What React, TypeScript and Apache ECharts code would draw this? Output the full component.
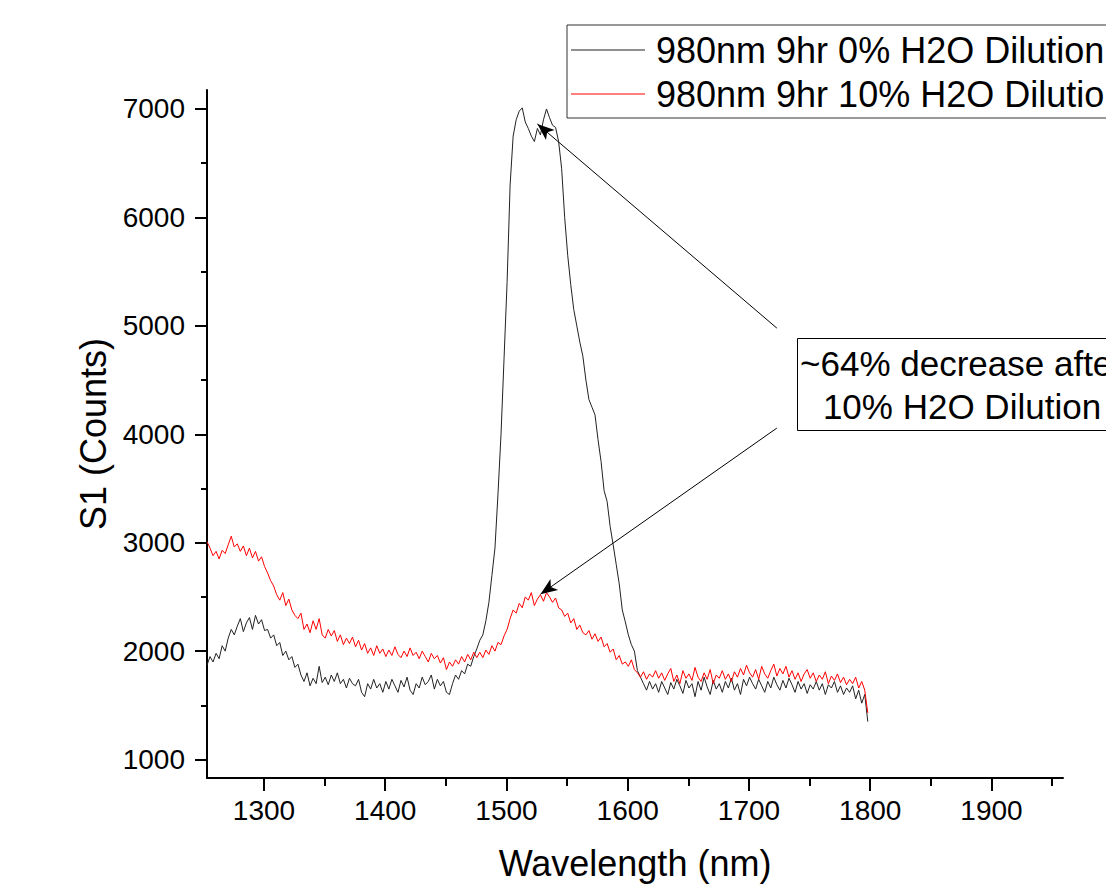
import React, { useEffect, useRef } from "react";
import * as echarts from "echarts";

// Sampling grid of the spectra (nm)
const wlStart = 1253;
const wlStep = 2.5;

const series0Name = "980nm 9hr 0% H2O Dilution";
const series1Name = "980nm 9hr 10% H2O Dilution";

// S1 counts, 0% H2O dilution (10 samples per row = 25 nm)
const counts0 = [
  1870, 1950, 1900, 1980, 1930, 2050, 2000, 2120, 2200, 2150,
  2230, 2300, 2180, 2260, 2310, 2200, 2330, 2250, 2290, 2190,
  2200, 2120, 2150, 2050, 2080, 1960, 2000, 1920, 1950, 1850,
  1880, 1780, 1720, 1800, 1680, 1750, 1700, 1860, 1710, 1760,
  1690, 1780, 1720, 1800, 1700, 1740, 1660, 1750, 1700, 1680,
  1740, 1620, 1580, 1700, 1650, 1740, 1660, 1700, 1620, 1720,
  1650, 1740, 1680, 1620, 1730, 1670, 1760, 1640, 1600, 1700,
  1660, 1760, 1690, 1720, 1780, 1650, 1740, 1680, 1720, 1620,
  1600, 1700, 1780, 1740, 1820, 1790, 1880, 1860, 1950, 2020,
  2100, 2150, 2280, 2450, 2700, 2950, 3450, 4000, 4700, 5400,
  6300, 6750, 6900, 6980, 7010, 6880, 6820, 6750, 6700, 6820,
  6760, 6900, 7000, 6920, 6850, 6830, 6700, 6450, 6000, 5650,
  5380, 5150, 5000, 4850, 4720, 4500, 4320, 4250, 4180, 3950,
  3750, 3480, 3380, 3150, 2980, 2800, 2620, 2380, 2270, 2150,
  2060, 2000, 1820, 1760, 1700, 1640, 1720, 1650, 1700, 1620,
  1720, 1660, 1600, 1710, 1650, 1740, 1680, 1610, 1730, 1660,
  1700, 1580, 1720, 1640, 1760, 1670, 1600, 1730, 1650, 1700,
  1620, 1720, 1660, 1750, 1640, 1700, 1600, 1740, 1680, 1760,
  1700, 1650, 1740, 1680, 1620, 1720, 1660, 1760, 1690, 1640,
  1730, 1660, 1750, 1690, 1620, 1720, 1650, 1700, 1610, 1690,
  1650, 1720, 1640, 1700, 1600, 1690, 1660, 1720, 1620, 1680,
  1600, 1660, 1620, 1680, 1560, 1640, 1520, 1600, 1350,
];

// S1 counts, 10% H2O dilution
const counts1 = [
  3010, 2950, 2880, 2920, 2850, 2930, 2900, 2980, 3060, 2960,
  2990, 2920, 2970, 2880, 2950, 2860, 2920, 2830, 2870, 2780,
  2720, 2650, 2600, 2520, 2470, 2540, 2420, 2480, 2380, 2330,
  2300, 2350, 2200, 2250, 2170, 2280, 2200, 2300, 2150, 2120,
  2200, 2140, 2190, 2090, 2150, 2060, 2120, 2070, 2130, 2040,
  2100, 2010, 2070, 1980, 2030, 1960, 2050, 1980, 2020, 1950,
  2010, 1960, 2040, 1970, 1940, 2000, 1950, 2030, 1960, 1990,
  1930, 2000, 1950, 1900, 1980, 1930, 1960, 1890, 1940, 1830,
  1900, 1860, 1920, 1880, 1950, 1900, 1970, 1920, 1990, 1940,
  1990, 1940, 2010, 1970, 2050, 2000, 2080, 2060, 2140, 2200,
  2300, 2380, 2350, 2440, 2400, 2500, 2470, 2540, 2420, 2480,
  2520, 2460, 2540, 2500, 2450, 2490, 2400, 2380, 2320, 2350,
  2260, 2300, 2200, 2240, 2170, 2150, 2190, 2110, 2160, 2090,
  2130, 2040, 2070, 1990, 2020, 1920, 1960, 1880, 1900, 1860,
  1920, 1830, 1800, 1760, 1810, 1740, 1790, 1760, 1820, 1750,
  1800, 1730, 1790, 1840, 1720, 1780, 1700, 1820, 1750, 1790,
  1730, 1850, 1760, 1720, 1800, 1740, 1830, 1700, 1780, 1750,
  1820, 1740, 1790, 1720, 1810, 1760, 1840, 1780, 1870, 1800,
  1760, 1830, 1740, 1860, 1790, 1750, 1820, 1880, 1770, 1840,
  1790, 1860, 1760, 1820, 1740, 1800, 1720, 1790, 1830, 1750,
  1800, 1720, 1780, 1740, 1810, 1700, 1770, 1730, 1790, 1710,
  1760, 1690, 1740, 1700, 1760, 1660, 1720, 1640, 1430,
];

const xMajorTicks = [1300, 1400, 1500, 1600, 1700, 1800, 1900];
const xMinorTicks = [1350, 1450, 1550, 1650, 1750, 1850, 1950];
const yMajorTicks = [1000, 2000, 3000, 4000, 5000, 6000, 7000];
const yMinorTicks = [1500, 2500, 3500, 4500, 5500, 6500];

const xRange = [1253, 1959];
const yRange = [830, 7175];

// Annotation arrows: [tail, head] in data coordinates
const arrows = [
  [[1723, 4979], [1525.5, 6862]],
  [[1723, 4057], [1528, 2525]],
];
const noteLines = ["~64% decrease after", "10% H2O Dilution"];

const FONT = "'Liberation Sans', Arial, Helvetica, sans-serif";

function toPairs(values: number[]) {
  return values.map((v, i) => [wlStart + i * wlStep, v]);
}

export default function App() {
  const ref = useRef<HTMLDivElement>(null);

  useEffect(() => {
    document.body.style.margin = "0";
    if (!ref.current) return;
    const chart = echarts.init(ref.current, undefined, { renderer: "svg" });

    const axisLineStyle = { color: "#000", width: 2 };
    const plain = (v: number) => String(v);

    const option: any = {
      animation: false,
      backgroundColor: "#fff",
      grid: {
        left: 207,
        right: 43,
        top: 90,
        bottom: 114,
        containLabel: false,
        outerBoundsMode: "none",
      },
      legend: {
        data: [series0Name, series1Name],
        orient: "vertical",
        left: 567,
        top: 25,
        padding: [3, 0, 2, 4],
        itemGap: 0,
        itemWidth: 74,
        itemHeight: 1,
        icon: "rect",
        borderColor: "#333",
        borderWidth: 1,
        backgroundColor: "#fff",
        selectedMode: false,
        textStyle: {
          fontSize: 36,
          fontFamily: FONT,
          color: "#000",
          lineHeight: 44,
          padding: [0, 0, 0, 6],
        },
      },
      xAxis: [
        {
          type: "value",
          min: xRange[0],
          max: xRange[1],
          position: "bottom",
          name: "Wavelength (nm)",
          nameLocation: "middle",
          nameGap: 67,
          nameTextStyle: { fontSize: 36, fontFamily: FONT, color: "#000" },
          axisLine: { show: true, onZero: false, lineStyle: axisLineStyle },
          axisTick: {
            show: true,
            length: 13,
            lineStyle: { color: "#000", width: 2 },
            customValues: xMajorTicks,
          },
          axisLabel: {
            show: true,
            fontSize: 28,
            fontFamily: FONT,
            color: "#000",
            margin: 18,
            formatter: plain,
            customValues: xMajorTicks,
          },
          splitLine: { show: false },
        },
        {
          type: "value",
          min: xRange[0],
          max: xRange[1],
          position: "bottom",
          axisLine: { show: false, onZero: false },
          axisTick: {
            show: true,
            length: 8,
            lineStyle: { color: "#000", width: 2 },
            customValues: xMinorTicks,
          },
          axisLabel: { show: false, customValues: xMinorTicks },
          splitLine: { show: false },
        },
      ],
      yAxis: [
        {
          type: "value",
          min: yRange[0],
          max: yRange[1],
          position: "left",
          name: "S1 (Counts)",
          nameLocation: "middle",
          nameGap: 86,
          nameTextStyle: { fontSize: 36, fontFamily: FONT, color: "#000" },
          axisLine: { show: true, onZero: false, lineStyle: axisLineStyle },
          axisTick: {
            show: true,
            length: 12,
            lineStyle: { color: "#000", width: 2 },
            customValues: yMajorTicks,
          },
          axisLabel: {
            show: true,
            fontSize: 28,
            fontFamily: FONT,
            color: "#000",
            margin: 22,
            formatter: plain,
            customValues: yMajorTicks,
          },
          splitLine: { show: false },
        },
        {
          type: "value",
          min: yRange[0],
          max: yRange[1],
          position: "left",
          axisLine: { show: false, onZero: false },
          axisTick: {
            show: true,
            length: 6,
            lineStyle: { color: "#000", width: 2 },
            customValues: yMinorTicks,
          },
          axisLabel: { show: false, customValues: yMinorTicks },
          splitLine: { show: false },
        },
      ],
      series: [
        {
          name: series0Name,
          type: "line",
          xAxisIndex: 0,
          yAxisIndex: 0,
          data: toPairs(counts0),
          symbol: "none",
          showSymbol: false,
          color: "#222",
          lineStyle: { color: "#222", width: 1 },
          z: 2,
          markLine: {
            silent: true,
            symbol: ["none", "arrow"],
            symbolSize: [10, 17],
            lineStyle: { color: "#000", width: 1, type: "solid" },
            label: { show: false },
            emphasis: { disabled: true },
            data: arrows.map(([a, b]) => [{ coord: a }, { coord: b }]),
          },
        },
        {
          name: series1Name,
          type: "line",
          xAxisIndex: 0,
          yAxisIndex: 0,
          data: toPairs(counts1),
          symbol: "none",
          showSymbol: false,
          color: "#ff0000",
          lineStyle: { color: "#ff0000", width: 1 },
          z: 3,
        },
      ],
      graphic: [
        {
          type: "group",
          z: 100,
          children: [
            {
              type: "rect",
              shape: { x: 797.5, y: 338.5, width: 420, height: 92 },
              style: { fill: "#fff", stroke: "#000", lineWidth: 1 },
            },
            {
              type: "text",
              x: 962,
              y: 363,
              style: {
                text: noteLines[0],
                fontSize: 35,
                fontFamily: FONT,
                fill: "#000",
                align: "center",
                verticalAlign: "middle",
              },
            },
            {
              type: "text",
              x: 962,
              y: 406,
              style: {
                text: noteLines[1],
                fontSize: 35,
                fontFamily: FONT,
                fill: "#000",
                align: "center",
                verticalAlign: "middle",
              },
            },
          ],
        },
      ],
    };

    chart.setOption(option);
    return () => chart.dispose();
  }, []);

  return <div ref={ref} style={{ width: 1106, height: 892 }} />;
}
